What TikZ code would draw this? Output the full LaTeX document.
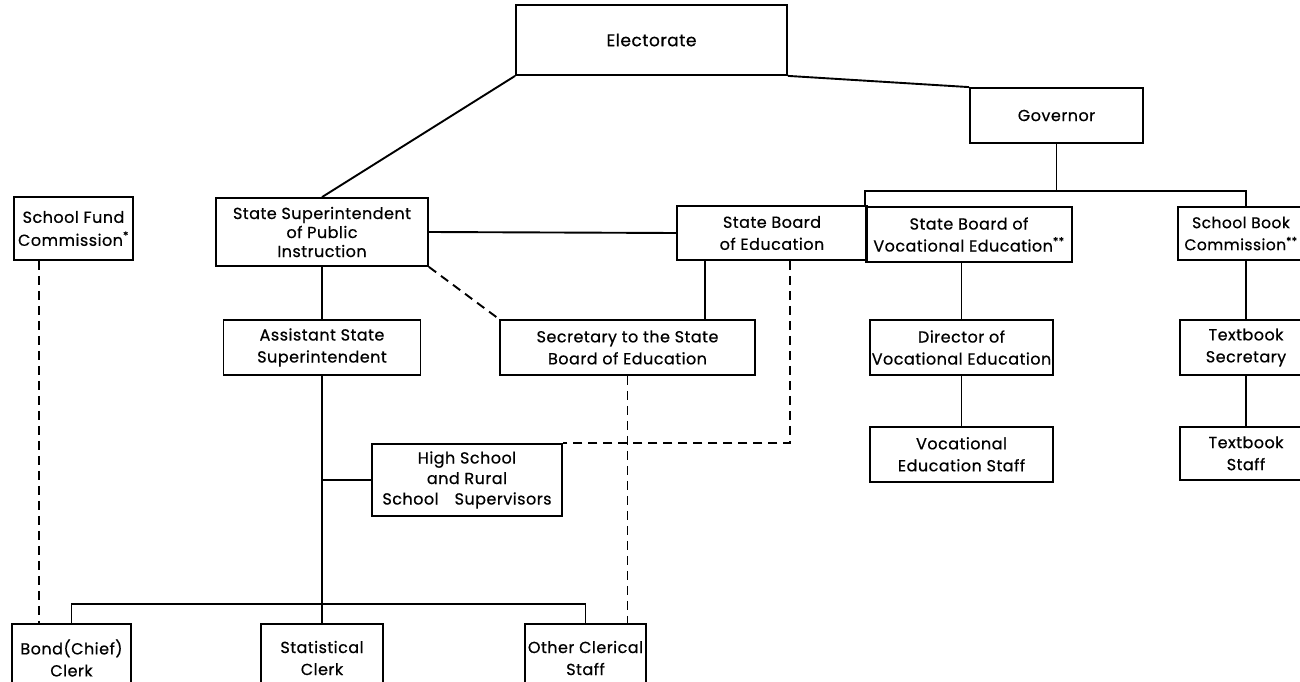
\documentclass[tikz,border=0pt]{standalone}
\usepackage{fontspec}
\setmainfont{Poppins}[FakeBold=0.6,LetterSpace=3]
\usetikzlibrary{positioning}

\begin{document}
\begin{tikzpicture}[x=1pt,y=-1pt,node distance=50pt,
  box/.style={draw,line width=1.8pt,align=center,inner sep=0pt,
    font=\fontsize{16}{22}\selectfont},
  boxsize/.style 2 args={minimum width=#1pt,minimum height=#2pt},
  link/.style={line width=1.9pt},
  dashlink/.style={line width=1.9pt,dash pattern=on 9pt off 6pt}]

\clip (0,0) rectangle (1300,682);
\fill[white] (0,0) rectangle (1300,682);

% top of the chart
\node[box,boxsize={271}{70},font=\fontsize{17}{21}\selectfont] (elect) at (651.5,40) {Electorate};
\node[box,boxsize={173}{55}] (gov) at (1056.5,115.5) {Governor};

% boards and commissions
\node[box,boxsize={119}{63},font=\fontsize{16}{23}\selectfont] (sfc) at (73.5,228.5) {School Fund\\Commission\textsuperscript{*}};
\node[box,boxsize={212}{68},font=\fontsize{16}{19}\selectfont] (ssup) at (322,232) {State Superintendent\\of Public\\Instruction};
\node[box,boxsize={190}{54}] (sbe) at (772,233) {State Board\\of Education};
\node[box,boxsize={206}{55}] (sbve) at (969,234.5) {State Board of\\Vocational Education\textsuperscript{**}};
\node[box,boxsize={126}{53},font=\fontsize{15.5}{22}\selectfont] (sbc) at (1241,233.5) {School Book\\Commission\textsuperscript{**}};

% staff
\node[box,boxsize={197}{55}] (asst) at (322,347.5) {Assistant State\\Superintendent};
\node[box,boxsize={255}{55}] (sec) at (627.5,347.5) {Secretary to the State\\Board of Education};
\node[box,boxsize={183}{55}] (dir) at (961.5,347.5) {Director of\\Vocational Education};
\node[box,boxsize={183}{55}] (vstaff) [below=of dir] {Vocational\\Education Staff};
\node[box,boxsize={132}{55}] (tsec) at (1246,347.5) {Textbook\\Secretary};
\node[box,boxsize={132}{53}] (tstaff) [below=of tsec] {Textbook\\Staff};
\node[box,boxsize={190}{72},font=\fontsize{16}{20.5}\selectfont] (hs) at (467,480) {High School\\and Rural\\School\hspace{16pt}Supervisors};

% clerks
\node[box,boxsize={119}{68}] (bond) at (71.5,658) {Bond(Chief)\\Clerk};
\node[box,boxsize={122}{68}] (stat) at (322,658) {Statistical\\Clerk};
\node[box,boxsize={121}{68}] (other) at (585.5,658) {Other Clerical\\Staff};

\coordinate (govbus) at (1056.5,191);
\coordinate (clerkbus) at (322,604);

\draw[link] (elect.south west) -- (ssup.north);
\draw[link] (elect.south east) -- (gov.north west);
\draw[link] (gov.south) -- (govbus);
\draw[link] (sbve.north west) -- (sbve.north west |- govbus) -| (sbc.north -| tsec.north);
\draw[link] (ssup.east) -- (sbe.west);
\draw[link] (ssup.south) -- (asst.north);
\draw[link] ([xshift=29pt]sbe.south west) -- ([xshift=29pt]sbe.south west |- sec.north);
\draw[link] (sbve.south -| dir.north) -- (dir.north);
\draw[link] (dir.south) -- (vstaff.north);
\draw[link] (sbc.south -| tsec.north) -- (tsec.north);
\draw[link] (tsec.south) -- (tstaff.north);
\draw[link] (asst.south) -- (stat.north);
\draw[link] (hs.west) -- (hs.west -| asst.south);
\draw[link] (bond.north) |- (clerkbus) -| (other.north);

% dashed lines
\draw[dashlink] (ssup.south east) -- (sec.north west);
\draw[dashlink] ([xshift=114pt]sbe.south west) |- (hs.north east);
\draw[dashlink] (sec.south) -- (sec.south |- other.north);
\draw[dashlink] ([xshift=26pt]sfc.south west) -- ([xshift=26pt]sfc.south west |- bond.north);

\end{tikzpicture}
\end{document}
